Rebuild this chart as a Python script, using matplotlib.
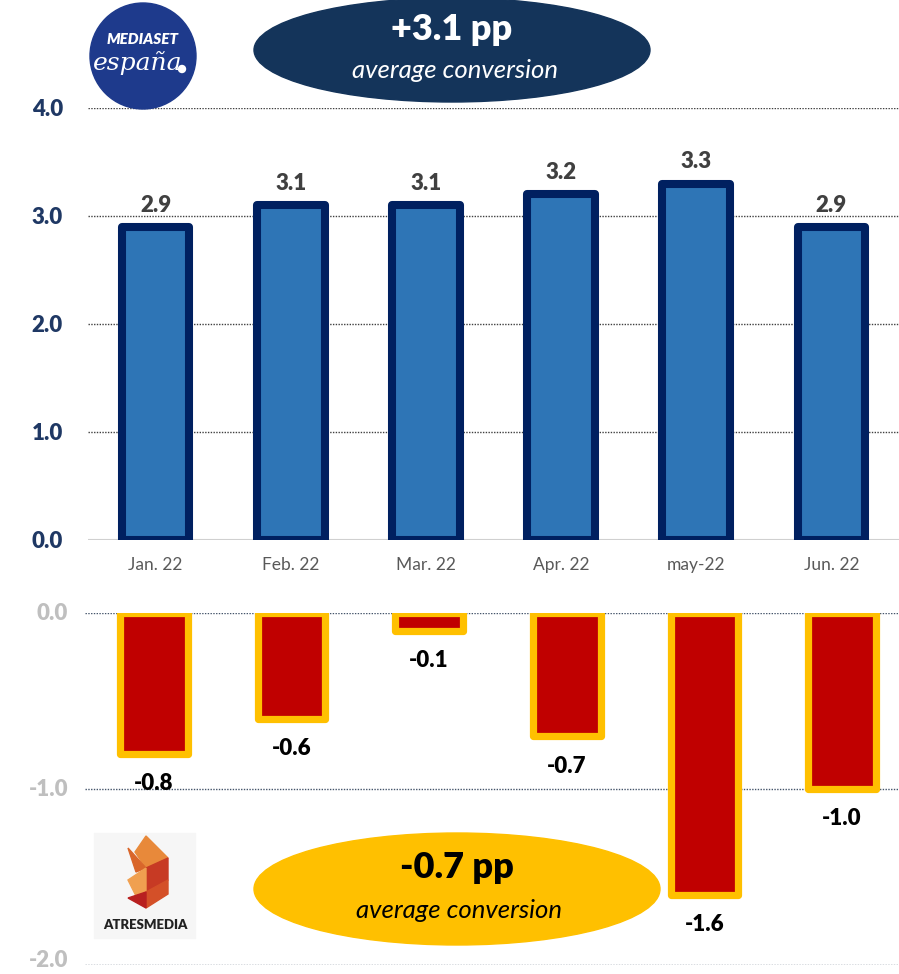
from matplotlib import pyplot as plt
from matplotlib.patches import Ellipse, Circle, Polygon, Rectangle
import numpy as np

months = ['Jan. 22', 'Feb. 22', 'Mar. 22', 'Apr. 22', 'may-22', 'Jun. 22']
mediaset = [2.9, 3.1, 3.1, 3.2, 3.3, 2.9]
atresmedia = [-0.8, -0.6, -0.1, -0.7, -1.6, -1.0]
top_ticks = [0.0, 1.0, 2.0, 3.0, 4.0]
bottom_ticks = [0.0, -1.0, -2.0]
mediaset_avg = '+3.1 pp'
atresmedia_avg = '-0.7 pp'

W, H = 899, 974
plt.rcParams['font.family'] = ['Lato', 'DejaVu Sans']
BOLD = 'heavy'


def fr(x0, y0, x1, y1):
    # pixel box (top-left origin) -> figure fraction rect
    return [x0 / W, 1 - y1 / H, (x1 - x0) / W, (y1 - y0) / H]


def main():
    fig = plt.figure(figsize=(W / 100, H / 100), dpi=100)
    x = np.arange(len(months))

    # top panel - Mediaset
    ax1 = fig.add_axes(fr(88, 108, 899, 540))
    ax1.bar(x, mediaset, width=0.5, color='#2E75B6', edgecolor='#002060',
            linewidth=5.8, joinstyle='round', zorder=3)
    for xi, v in zip(x, mediaset):
        ax1.text(xi, v + 0.2, f'{v:.1f}', ha='center', va='center',
                 fontsize=16, fontweight=BOLD, color='#404040')
    ax1.set_xlim(-0.5, 5.5)
    ax1.set_ylim(0, 4)
    for t in top_ticks[1:]:
        ax1.axhline(t, color='#404040', lw=1.0, ls=(0, (1, 1)), zorder=1)
    ax1.axhline(0, color='#D0D0D0', lw=1.5, zorder=2)
    ax1.set_yticks(top_ticks)
    ax1.set_yticklabels([f'{t:.1f}' for t in top_ticks], fontsize=16,
                        fontweight=BOLD, color='#1F3864')
    ax1.set_xticks(x)
    ax1.set_xticklabels(months, fontsize=12.5, color='#595959')
    ax1.tick_params(axis='y', length=0, pad=18)
    ax1.tick_params(axis='x', length=0, pad=12)
    for s in ax1.spines.values():
        s.set_visible(False)

    # bottom panel - Atresmedia
    ax2 = fig.add_axes(fr(85, 613, 911, 965))
    ax2.bar(x, atresmedia, width=0.49, color='#C00000', edgecolor='#FFC000',
            linewidth=5.2, joinstyle='round', zorder=3)
    for xi, v in zip(x, atresmedia):
        ax2.text(xi, v - 0.17, f'{v:.1f}', ha='center', va='center',
                 fontsize=16, fontweight=BOLD, color='black')
    ax2.set_xlim(-0.5, 5.5)
    ax2.set_ylim(-2, 0)
    for t in bottom_ticks:
        ax2.axhline(t, color='#44546A', lw=1.0, ls=(0, (1, 1)), zorder=1)
        # y labels drawn by hand so the lowest one can sit a bit higher
        dy = 3 if t == bottom_ticks[-1] else 0
        ax2.annotate(f'{t:.1f}', xy=(0, t), xycoords=('axes fraction', 'data'),
                     xytext=(-12, dy), textcoords='offset points',
                     ha='right', va='center', fontsize=16, fontweight=BOLD,
                     color='#BFBFBF', annotation_clip=False)
    ax2.set_xticks([])
    ax2.set_yticks([])
    for s in ax2.spines.values():
        s.set_visible(False)
    ax2.patch.set_alpha(0)

    # overlay for ellipses and logos, in pixels
    ov = fig.add_axes([0, 0, 1, 1])
    ov.set_xlim(0, W)
    ov.set_ylim(H, 0)
    ov.axis('off')
    ov.patch.set_alpha(0)

    ov.add_patch(Ellipse((452, 50), 396, 104, color='#14345A'))
    ov.text(452, 29, mediaset_avg, ha='center', va='center', fontsize=26,
            fontweight=BOLD, color='white')
    ov.text(455, 70, 'average conversion', ha='center', va='center',
            fontsize=18.5, style='italic', color='white')

    ov.add_patch(Ellipse((457, 889), 406, 112, color='#FFC000'))
    ov.text(457, 868, atresmedia_avg, ha='center', va='center', fontsize=26,
            fontweight=BOLD, color='black')
    ov.text(459, 911, 'average conversion', ha='center', va='center',
            fontsize=18.5, style='italic', color='black')

    # Mediaset logo
    ov.add_patch(Circle((143, 56), 53, color='#1E3A8C'))
    ov.text(143, 39, 'MEDIASET', ha='center', va='center', fontsize=11,
            fontweight=BOLD, style='italic', color='white')
    ov.text(138, 63, 'españa', ha='center', va='center', fontsize=18,
            style='italic', family='DejaVu Serif', color='white')
    ov.add_patch(Circle((182, 69), 3.5, color='white'))

    # Atresmedia logo
    ov.add_patch(Rectangle((94, 833), 101, 105, color='#F6F6F6'))
    cols = ['#E8893A', '#D9662A', '#C73A24', '#F0A050', '#D45028', '#B82020']
    shapes = [
        [(146, 836), (168, 858), (146, 868), (135, 852)],
        [(128, 848), (146, 868), (136, 872)],
        [(146, 868), (168, 858), (168, 880), (146, 892)],
        [(128, 880), (146, 868), (146, 892), (136, 896)],
        [(146, 892), (168, 880), (168, 894), (146, 908)],
        [(128, 898), (146, 892), (146, 908)],
    ]
    for pts, c in zip(shapes, cols):
        ov.add_patch(Polygon(pts, closed=True, color=c))
    ov.text(145, 925, 'ATRESMEDIA', ha='center', va='center', fontsize=9.5,
            fontweight=BOLD, color='#222222')

    fig.savefig('out.png', dpi=100)


if __name__ == '__main__':
    main()
